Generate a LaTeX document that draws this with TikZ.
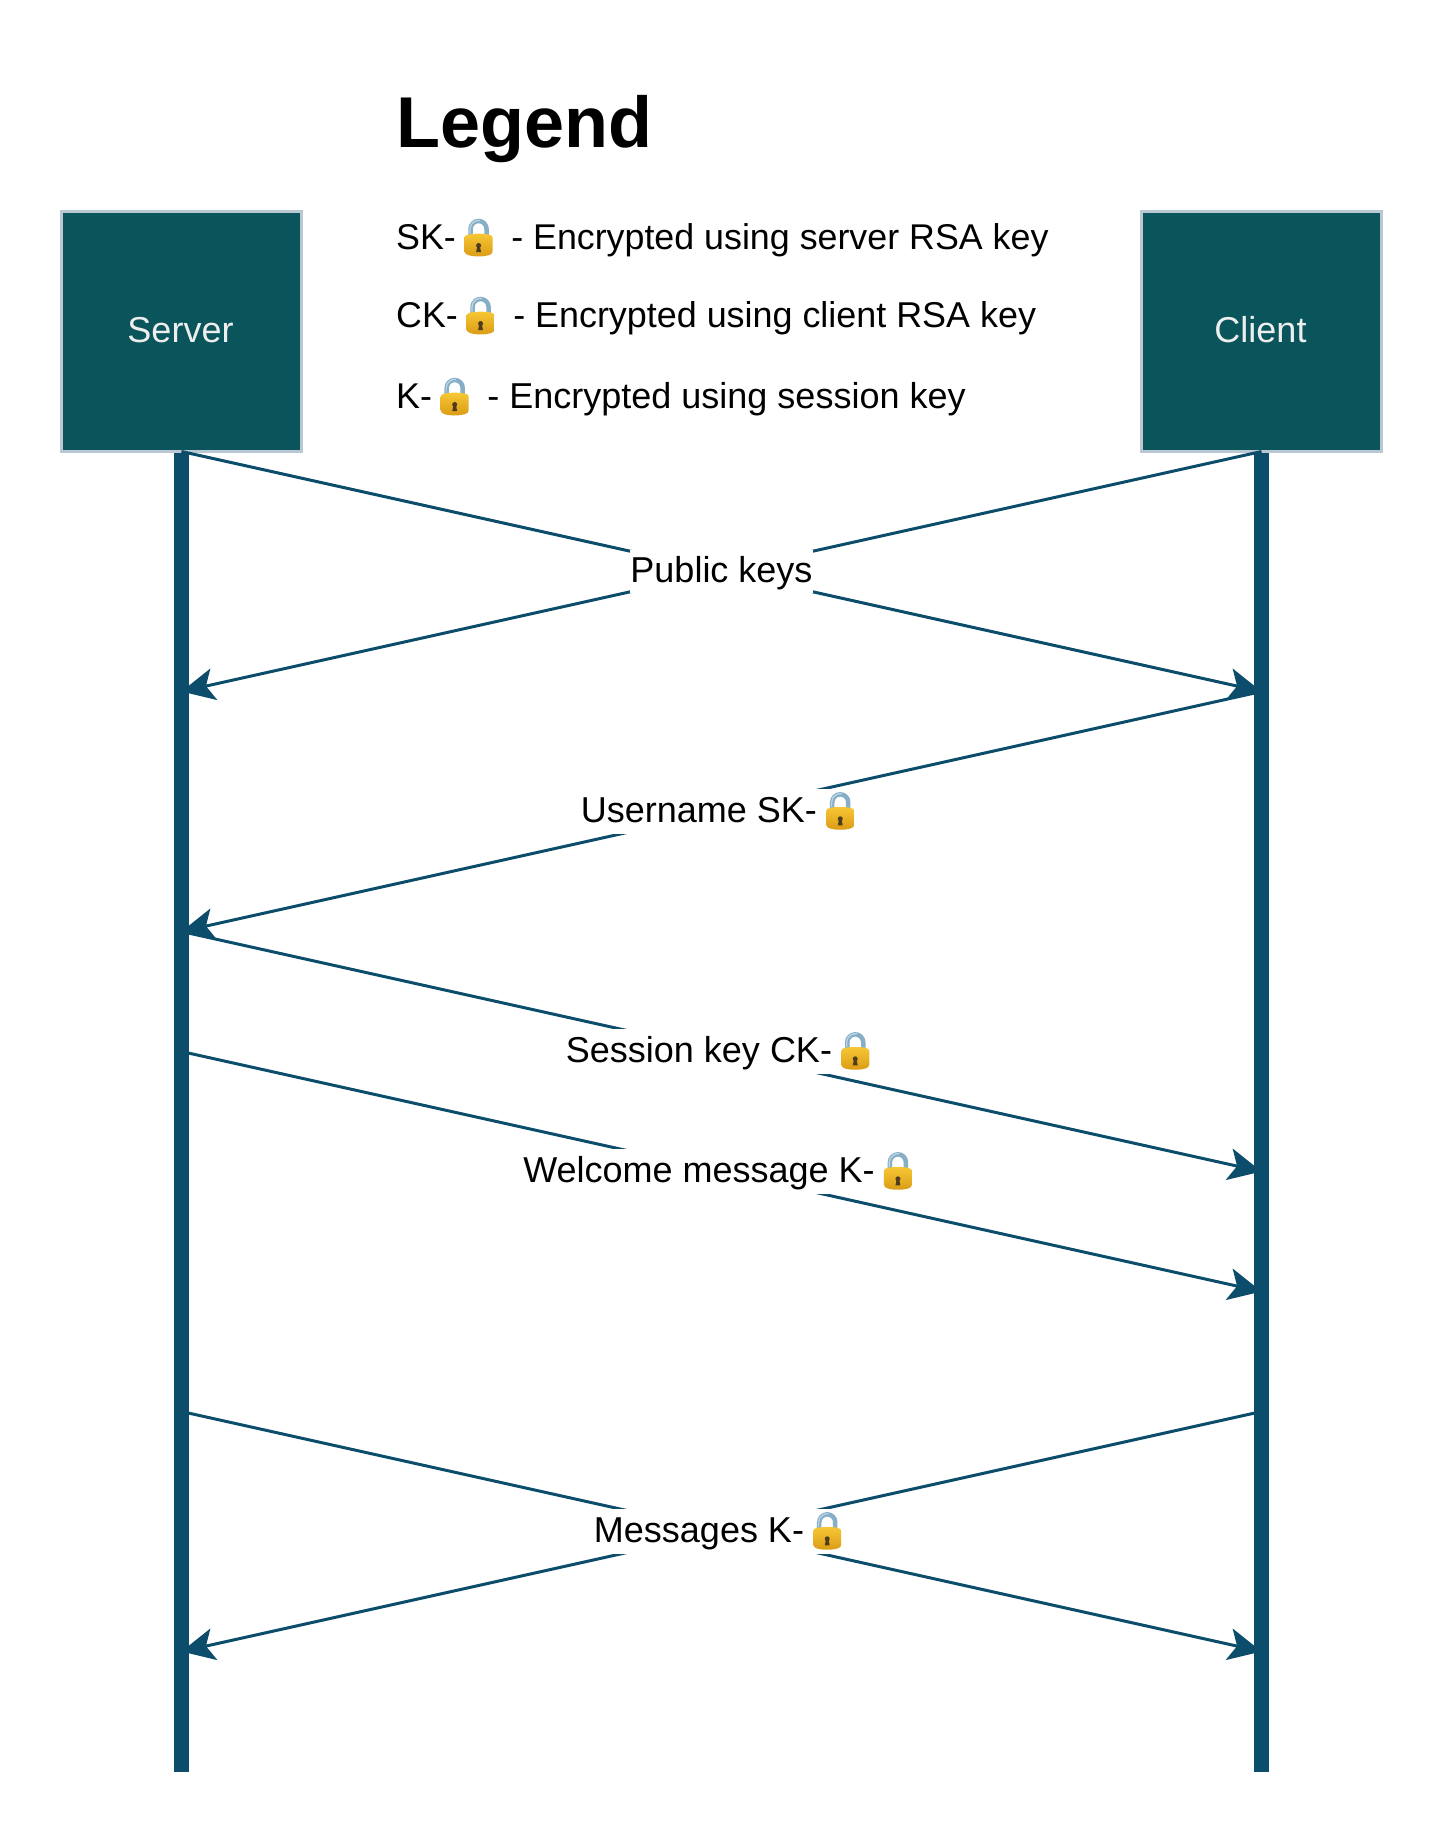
\documentclass[tikz,border=0pt]{standalone}
\usepackage{fontspec}
\setmainfont{Liberation Sans}
\usetikzlibrary{arrows.meta,calc}
\definecolor{boxfill}{HTML}{09555B}
\definecolor{boxline}{HTML}{BAC8D3}
\definecolor{flow}{HTML}{0B4D6A}
\definecolor{boxtext}{HTML}{EEEEEE}
\definecolor{shackle}{HTML}{86AEC6}
\definecolor{shacklelight}{HTML}{BFD6E2}
\definecolor{goldtop}{HTML}{F6C735}
\definecolor{goldmid}{HTML}{EBB024}
\definecolor{goldbot}{HTML}{DB9C16}
\definecolor{keyhole}{HTML}{4F3B1E}
\newcommand{\lockgap}{\rule{45pt}{0pt}}
\tikzset{
  actor/.style={draw=boxline,fill=boxfill,line width=3pt,minimum width=240pt,minimum height=240pt,inner sep=0pt},
  actortext/.style={inner sep=0pt,anchor=base,text=boxtext,font=\fontsize{36}{41}\selectfont},
  lifeline/.style={draw=flow,line width=15pt},
  msg/.style={draw=flow,line width=3pt,-{Stealth[length=33pt,width=32pt,inset=8pt]}},
  msglabel/.style={fill=white,inner xsep=0pt,inner ysep=0pt,text height=32pt,text depth=11pt,font=\fontsize{36}{41}\selectfont},
  locklabel/.style={msglabel,text height=32.8pt,text depth=11.8pt},
  legendtext/.style={inner sep=0pt,font=\fontsize{35.8}{41}\selectfont,anchor=base west},
  lockicon/.pic={
    \draw[shackle,line width=4.5pt] (-8,-2) -- (-8,-8.5) arc[start angle=180,end angle=360,radius=8] -- (8,-2);
    \draw[shacklelight,line width=1.2pt] (-8.6,-4) -- (-8.6,-8.5) arc[start angle=180,end angle=280,radius=8.6];
    \shade[top color=goldtop,middle color=goldmid,bottom color=goldbot]
      (-14,0) .. controls (-14,-3) and (-8,-3.8) .. (0,-3.8) .. controls (8,-3.8) and (14,-3) .. (14,0)
      -- (14,14) .. controls (14,17.5) and (8,18.9) .. (0,18.9) .. controls (-8,18.9) and (-14,17.5) .. (-14,14) -- cycle;
    \fill[keyhole] (0,8) circle[radius=2.5];
    \fill[keyhole] (-1.2,8) -- (1.2,8) -- (2.4,14.5) -- (-2.4,14.5) -- cycle;
  }
}
\begin{document}
\begin{tikzpicture}[x=1pt,y=-1pt]
\useasboundingbox (0,0) rectangle (1443,1842);
\node[inner sep=0pt,anchor=base west,font=\bfseries\fontsize{72}{80}\selectfont] (legendtitle) at (396,147) {Legend};
% legend rows
\node[legendtext] (ska) at (396,249) {SK-};
\pic at ($(ska.base east)+(22.5,-11.5)$) {lockicon};
\node[legendtext] (skb) at ($(ska.base east)+(55,0)$) {- Encrypted using server RSA key};
\node[legendtext] (cka) at (396,327) {CK-};
\pic at ($(cka.base east)+(22.5,-11.5)$) {lockicon};
\node[legendtext,font=\fontsize{35.9}{41}\selectfont] (ckb) at ($(cka.base east)+(55,0)$) {- Encrypted using client RSA key};
\node[legendtext] (ka) at (396,408) {K-};
\pic at ($(ka.base east)+(22.5,-11.5)$) {lockicon};
\node[legendtext,font=\fontsize{36}{41}\selectfont] (kb) at ($(ka.base east)+(55,0)$) {- Encrypted using session key};
% actors
\node[actor] (server) at (181.5,331.5) {};
\node[actor] (client) at (1261.5,331.5) {};
\node[actortext] (servertext) at (180.5,342) {Server};
\node[actortext] (clienttext) at (1260.5,342) {Client};
% anchors on the lifelines
\coordinate (sbot) at (181.5,1771.5);
\coordinate (cbot) at (1261.5,1771.5);
\foreach \nm/\yy in {a/451.5,b/691.5,c/931.5,d/1051.5,e/1171.5,f/1291.5,g/1411.5,h/1651.5}{
  \coordinate (s\nm) at (181.5,\yy);
  \coordinate (c\nm) at (1261.5,\yy);
}
% messages
\draw[msg] (sa) -- (cb);
\draw[msg] (ca) -- (sb);
\draw[msg] (cb) -- (sc);
\draw[msg] (sc) -- (ce);
\draw[msg] (sd) -- (cf);
\draw[msg] (sg) -- (ch);
\draw[msg] (cg) -- (sh);
% labels
\node[msglabel] (publickeys) at (721.5,571.5) {Public keys};
\node[locklabel] (username) at (721.5,811.5) {Username SK-\lockgap};
\pic at ($(username.east)+(-22,-0.7)$) {lockicon};
\node[locklabel] (sessionkey) at (721.5,1051.5) {Session key CK-\lockgap};
\pic at ($(sessionkey.east)+(-22,-0.7)$) {lockicon};
\node[locklabel] (welcome) at (721.5,1171.5) {Welcome message K-\lockgap};
\pic at ($(welcome.east)+(-22,-0.7)$) {lockicon};
\node[locklabel] (messages) at (721.5,1531.5) {Messages K-\lockgap};
\pic at ($(messages.east)+(-22,-0.7)$) {lockicon};
% lifelines
\draw[lifeline] (server.south) -- (sbot);
\draw[lifeline] (client.south) -- (cbot);
\end{tikzpicture}
\end{document}
